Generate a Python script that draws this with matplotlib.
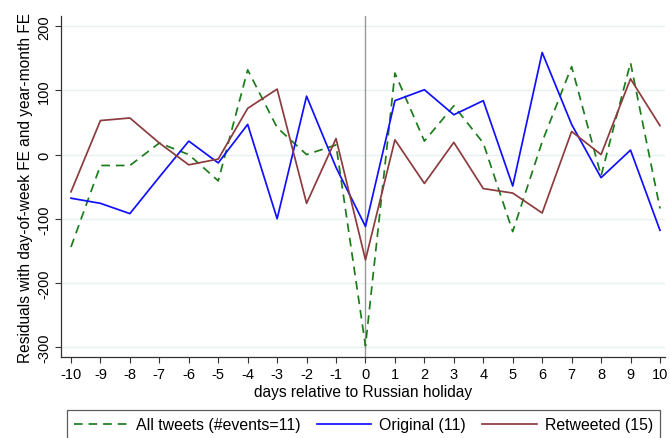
import matplotlib
matplotlib.use("Agg")
import matplotlib.pyplot as plt

days = list(range(-10, 11))
all_tweets = [-144, -17, -17, 18, 0, -41, 132, 42, 0, 15, -298,
              127, 21, 76, 18, -120, 20, 137, -33, 143, -84]
original = [-68, -76, -92, -35, 21, -13, 47, -100, 91, -20, -112,
            84, 101, 62, 84, -49, 159, 47, -36, 7, -118]
retweeted = [-58, 53, 57, 18, -16, -7, 72, 102, -76, 25, -164,
             23, -45, 19, -53, -60, -91, 36, 0, 118, 45]
yticks = [-300, -200, -100, 0, 100, 200]
labels = ["All tweets (#events=11)", "Original (11)", "Retweeted (15)"]

plt.rcParams['font.family'] = ['Liberation Sans', 'DejaVu Sans']
fs_tick = 10.5
fs_lab = 11.2
fs_leg = 11.4

fig = plt.figure(figsize=(6.7, 4.39), dpi=100)
ax = fig.add_axes([0.091, 0.1845, 0.9015, 0.7765])

for y in yticks:
    ax.axhline(y, color='#e8f0f1', lw=1.0, zorder=0)
ax.axvline(0, color='#999999', lw=1.0, zorder=1)

c_green = '#1c7c1c'
c_blue = '#1010ff'
c_red = '#8c3b3e'
l1, = ax.plot(days, all_tweets, color=c_green, lw=1.25, dashes=(5.0, 3.4), zorder=3)
l2, = ax.plot(days, original, color=c_blue, lw=1.25, zorder=3)
l3, = ax.plot(days, retweeted, color=c_red, lw=1.25, zorder=3)

ax.set_xlim(-10.34, 10.17)
ax.set_ylim(-315.4, 215.7)
ax.set_xticks(days)
ax.set_xticklabels([str(d) for d in days], fontsize=fs_tick)
ax.set_yticks(yticks)
ax.set_yticklabels([str(v) for v in yticks], fontsize=fs_tick, rotation=90, va='center')
ax.tick_params(direction='out', length=4.6, width=0.8, color='#333333', pad=2.5)
for s in ['top', 'right']:
    ax.spines[s].set_visible(False)
for s in ['left', 'bottom']:
    ax.spines[s].set_color('#333333')
    ax.spines[s].set_linewidth(0.9)

ax.set_xlabel("days relative to Russian holiday", fontsize=fs_lab, labelpad=2)
ax.set_ylabel("Residuals with day-of-week FE and year-month FE", fontsize=fs_lab, labelpad=3)

leg = fig.legend([l1, l2, l3], labels, loc='upper left',
                 bbox_to_anchor=(0.0996, 0.0638), ncol=3, fontsize=fs_leg,
                 frameon=True, fancybox=False, borderaxespad=0,
                 handlelength=3.45, columnspacing=1.0, handletextpad=0.5,
                 borderpad=0.45)
leg.get_frame().set_edgecolor('#333333')
leg.get_frame().set_linewidth(0.9)

fig.savefig("out.png", dpi=100)
